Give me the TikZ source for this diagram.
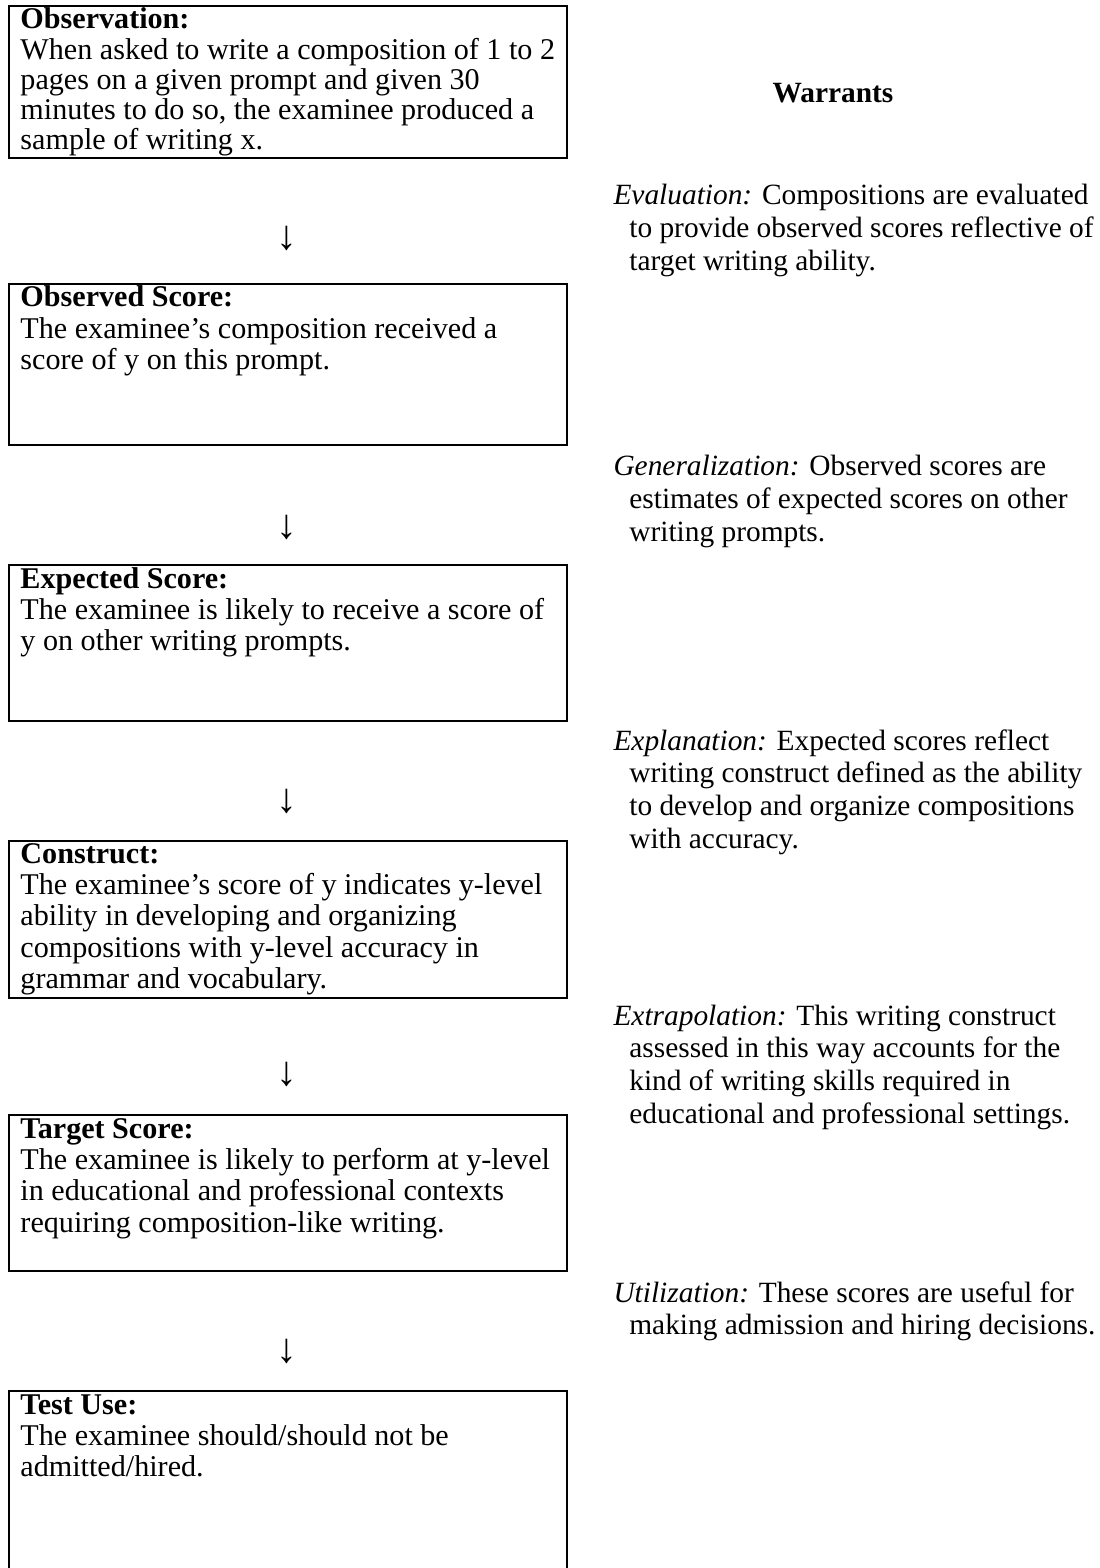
\documentclass[tikz,border=0pt]{standalone}
\usepackage{fontspec}
\setmainfont{Liberation Serif}
\begin{document}
% 1 unit = one pixel of a 1099 x 1568 page, y grows downwards
\begin{tikzpicture}[x=0.41pt,y=-0.41pt,
  claimbox/.style={draw=black, line width=0.8pt, rectangle, inner sep=0pt,
    minimum width=228.8pt, anchor=north west},
  boxtext/.style={anchor=base west, inner sep=0pt,
    font=\fontsize{12.35}{12.9}\selectfont},
  warrant/.style={anchor=base west, inner sep=0pt,
    font=\fontsize{12.05}{13.4}\selectfont},
  downarrow/.style={inner sep=0pt, font=\fontsize{17}{18}\selectfont}
]
\useasboundingbox (0,0) rectangle (1099,1568);
\clip (0,0) rectangle (1099,1568);

% claim boxes
\node[claimbox, minimum height=62.3pt] (b1) at (8,5) {};
\node[claimbox, minimum height=66pt] (b2) at (8,283) {};
\node[claimbox, minimum height=64pt] (b3) at (8,564) {};
\node[claimbox, minimum height=64.4pt] (b4) at (8,840) {};
\node[claimbox, minimum height=64pt] (b5) at (8,1114) {};
\node[claimbox, minimum height=94pt] (b6) at (8,1390) {};

\node[boxtext, font=\fontsize{12.35}{12.3}\selectfont] (t1) at (20,29) {\begin{tabular}[t]{@{}l@{}}
  \textbf{Observation:}\\
  When asked to write a composition of 1 to 2\\
  pages on a given prompt and given 30\\
  minutes to do so, the examinee produced a\\
  sample of writing x.\end{tabular}};
\node[boxtext] (t2) at (20,307) {\begin{tabular}[t]{@{}l@{}}
  \textbf{Observed Score:}\\
  The examinee’s composition received a\\
  score of y on this prompt.\end{tabular}};
\node[boxtext] (t3) at (20,588) {\begin{tabular}[t]{@{}l@{}}
  \textbf{Expected Score:}\\
  The examinee is likely to receive a score of\\
  y on other writing prompts.\end{tabular}};
\node[boxtext] (t4) at (20,863) {\begin{tabular}[t]{@{}l@{}}
  \textbf{Construct:}\\
  The examinee’s score of y indicates y-level\\
  ability in developing and organizing\\
  compositions with y-level accuracy in\\
  grammar and vocabulary.\end{tabular}};
\node[boxtext] (t5) at (20,1138) {\begin{tabular}[t]{@{}l@{}}
  \textbf{Target Score:}\\
  The examinee is likely to perform at y-level\\
  in educational and professional contexts\\
  requiring composition-like writing.\end{tabular}};
\node[boxtext] (t6) at (20,1414) {\begin{tabular}[t]{@{}l@{}}
  \textbf{Test Use:}\\
  The examinee should/should not be\\
  admitted/hired.\end{tabular}};

% arrows between the claims
\node[downarrow] (a1) at (287,238) {↓};
\node[downarrow] (a2) at (287,527) {↓};
\node[downarrow] (a3) at (287,801) {↓};
\node[downarrow] (a4) at (287,1074) {↓};
\node[downarrow] (a5) at (287,1351) {↓};

% warrants column
\node[anchor=base, inner sep=0pt, font=\fontsize{12.05}{13.4}\selectfont\bfseries]
  (wh) at (833,103) {Warrants};

\node[warrant] (w1) at (613,205) {\begin{tabular}[t]{@{}l@{}}
  \textit{Evaluation:} Compositions are evaluated\\
  \hspace{6.5pt}to provide observed scores reflective of\\
  \hspace{6.5pt}target writing ability.\end{tabular}};
\node[warrant] (w2) at (613,476) {\begin{tabular}[t]{@{}l@{}}
  \textit{Generalization:} Observed scores are\\
  \hspace{6.5pt}estimates of expected scores on other\\
  \hspace{6.5pt}writing prompts.\end{tabular}};
\node[warrant] (w3) at (613,750) {\begin{tabular}[t]{@{}l@{}}
  \textit{Explanation:} Expected scores reflect\\
  \hspace{6.5pt}writing construct defined as the ability\\
  \hspace{6.5pt}to develop and organize compositions\\
  \hspace{6.5pt}with accuracy.\end{tabular}};
\node[warrant] (w4) at (613,1025) {\begin{tabular}[t]{@{}l@{}}
  \textit{Extrapolation:} This writing construct\\
  \hspace{6.5pt}assessed in this way accounts for the\\
  \hspace{6.5pt}kind of writing skills required in\\
  \hspace{6.5pt}educational and professional settings.\end{tabular}};
\node[warrant] (w5) at (613,1302) {\begin{tabular}[t]{@{}l@{}}
  \textit{Utilization:} These scores are useful for\\
  \hspace{6.5pt}making admission and hiring decisions.\end{tabular}};
\end{tikzpicture}
\end{document}
